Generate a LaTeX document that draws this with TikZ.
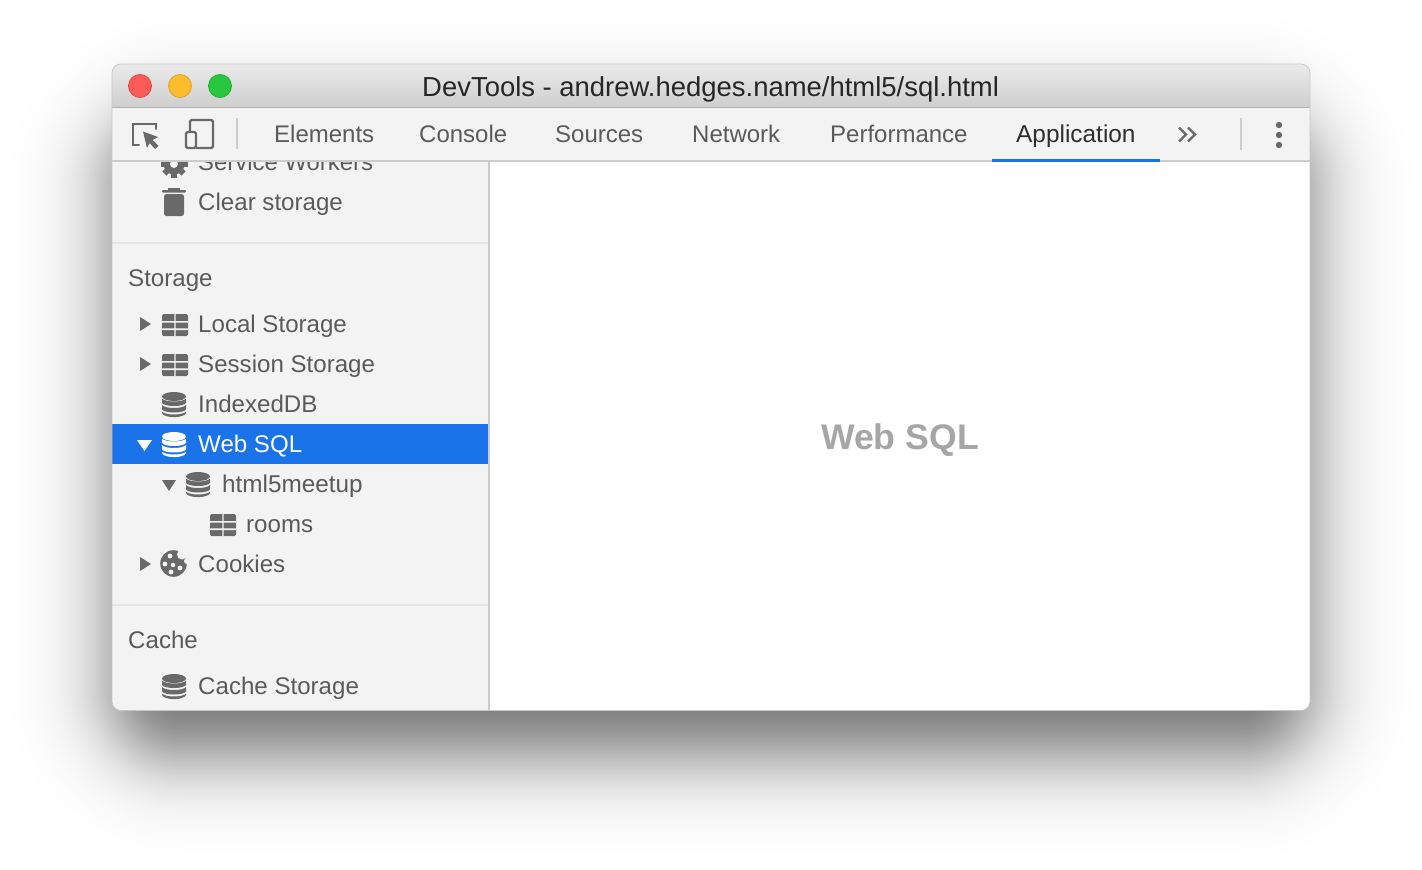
\documentclass[tikz,border=0pt]{standalone}
\usepackage{fontspec}
\setmainfont{Liberation Sans}
\definecolor{txt}{HTML}{5A5A5A}
\definecolor{icon}{HTML}{696969}
\definecolor{panel}{HTML}{F3F3F3}
\definecolor{rule}{HTML}{CCCCCC}
\definecolor{sepline}{HTML}{E4E4E4}
\definecolor{sel}{HTML}{1A73E8}
\tikzset{
  lbl/.style={anchor=base west,inner sep=0pt,font=\fontsize{24.1}{28}\selectfont,text=txt},
  tablbl/.style={lbl,font=\fontsize{24}{28}\selectfont},
  light/.style={circle,minimum size=23pt,inner sep=0pt,line width=0.8pt}
}
\newcommand{\tableicon}[2]{%
  \begin{scope}[shift={(#1,#2)}]
    \fill[icon,rounded corners=1.5pt] (0,0) rectangle (26,22);
    \fill[panel] (0,7) rectangle (26,8.6) (0,14.4) rectangle (26,16) (12.3,0) rectangle (13.7,22);
  \end{scope}}
\newcommand{\dbicon}[4]{%
  \begin{scope}[shift={(#1,#2)}]
    \fill[#3] (0,4.5) arc[start angle=180,end angle=-180,x radius=12,y radius=4.5];
    \fill[#3] (0,6.5) .. controls (3,10.5) and (21,10.5) .. (24,6.5) -- (24,11) .. controls (21,15) and (3,15) .. (0,11) -- cycle;
    \fill[#3] (0,13) .. controls (3,17) and (21,17) .. (24,13) -- (24,17.5) .. controls (21,21.5) and (3,21.5) .. (0,17.5) -- cycle;
    \fill[#3] (0,19.5) .. controls (3,23.5) and (21,23.5) .. (24,19.5) -- (24,21) .. controls (22,26.5) and (2,26.5) .. (0,21) -- cycle;
  \end{scope}}
\newcommand{\rtri}[2]{\fill[icon] (#1,#2-7) -- (#1+11,#2) -- (#1,#2+7) -- cycle;}
\newcommand{\dtri}[4]{\fill[#4] (#1,#2) -- (#1+#3,#2) -- (#1+#3/2,#2+11) -- cycle;}
\begin{document}
\begin{tikzpicture}[x=1pt,y=-1pt]
\useasboundingbox (0,0) rectangle (1422,870);
% soft shadow, painted opaque from the outside in
\foreach \d in {110,108,...,-110}{
  \pgfmathsetmacro{\val}{1-0.58/(1+exp(1.7*\d/42))+0.58/(1+exp(1.7*110/42))}
  \pgfmathsetmacro{\rad}{max(10,\d+70)}
  \definecolor{shd}{gray}{\val}
  \fill[shd,rounded corners=\rad pt]
    (112-\d,118-\d) rectangle (1310+\d,755+\d);
}
% window
\begin{scope}
  \clip[rounded corners=9pt] (112,64) rectangle (1310,710.5);
  \fill[white] (112,64) rectangle (1310,711);
  \shade[top color=white!92!black,bottom color=white!81!black] (112,64) rectangle (1310,107);
  \fill[black!30] (112,106.5) rectangle (1310,108);
  \fill[panel] (112,108) rectangle (1310,161);
  \fill[panel] (112,161) rectangle (488,711);
  \fill[rule] (488,161) rectangle (490,711);
  \fill[sepline] (112,242) rectangle (488,244);
  \fill[sepline] (112,604) rectangle (488,606);
  \fill[sel] (112,424) rectangle (488,464);
  % scrolled sidebar contents
  \begin{scope}
    \clip (112,162) rectangle (488,711);
    \node[lbl,font=\fontsize{23.9}{28}\selectfont] (sw) at (198,170) {Service Workers};
    \foreach \a in {0,45,...,315}{
      \fill[icon,rotate around={\a:(174,164)}] (171,150.5) rectangle (177,158);
    }
    \fill[icon] (174,164) circle[radius=10.5];
    \fill[panel] (174,164) circle[radius=4];
  \end{scope}
  \fill[rule] (112,160) rectangle (1310,162);
  \fill[sel] (992,159) rectangle (1160,162);
\end{scope}
\draw[black!22,line width=0.8pt,rounded corners=9pt] (112,64) rectangle (1310,710.5);
% traffic lights
\node[light,fill={rgb,255:red,252;green,91;blue,87},draw={rgb,255:red,226;green,70;blue,64}] (close) at (140,86) {};
\node[light,fill={rgb,255:red,253;green,188;blue,44},draw={rgb,255:red,224;green,162;blue,36}] (minimize) at (180,86) {};
\node[light,fill={rgb,255:red,39;green,200;blue,63},draw={rgb,255:red,30;green,174;blue,44}] (maximize) at (220,86) {};
\node[lbl,font=\fontsize{27.45}{30}\selectfont,text=black!85] (title) at (422,96) {DevTools - andrew.hedges.name/html5/sql.html};
% toolbar icons
\draw[icon,line width=2pt,line cap=round] (156,129) -- (156,124) -- (133,124) -- (133,145) -- (139,145);
\fill[icon] (143,131.5) -- (158,137) -- (152.5,140) -- (158.5,146) -- (155,149) -- (149.5,143) -- (147,148) -- cycle;
\draw[icon,line width=2.4pt,rounded corners=1.5pt] (190,131) -- (190,120) -- (213,120) -- (213,148) -- (196,148);
\draw[icon,line width=2.4pt,rounded corners=1.5pt] (186,132) rectangle (196,148);
\fill[rule] (236,118) rectangle (238,149);
\fill[rule] (1240,118) rectangle (1242,150);
\node[tablbl] (elements) at (274,142) {Elements};
\node[tablbl] (console) at (419,142) {Console};
\node[tablbl] (sources) at (555,142) {Sources};
\node[tablbl] (network) at (692,142) {Network};
\node[tablbl] (performance) at (830,142) {Performance};
\node[tablbl,text=black!82,font=\fontsize{24.4}{28}\selectfont] (application) at (1016,142) {Application};
\draw[icon,line width=2.3pt] (1179,127.5) -- (1186,134.5) -- (1179,141.5);
\draw[icon,line width=2.3pt] (1188,127.5) -- (1195,134.5) -- (1188,141.5);
\fill[icon] (1279,125) circle[radius=3.2] (1279,135) circle[radius=3.2] (1279,145) circle[radius=3.2];
% sidebar
\fill[icon,rounded corners=1pt] (162,190) rectangle (186,192.5);
\fill[icon] (168,188) rectangle (180,190);
\fill[icon,rounded corners=2.5pt] (164,194) -- (184,194) -- (184,216) -- (164,216) -- cycle;
\node[lbl] (clear) at (198,210) {Clear storage};
\node[lbl] (storage) at (128,286) {Storage};
\rtri{140}{324}
\tableicon{162}{314}
\node[lbl] (local) at (198,332) {Local Storage};
\rtri{140}{364}
\tableicon{162}{354}
\node[lbl] (session) at (198,372) {Session Storage};
\dbicon{162}{392}{icon}{panel}
\node[lbl] (indexed) at (198,412) {IndexedDB};
\dtri{137}{440}{15}{white}
\dbicon{162}{432}{white}{sel}
\node[lbl,text=white] (websql) at (198,452) {Web SQL};
\dtri{162}{480}{14}{icon}
\dbicon{186}{472}{icon}{panel}
\node[lbl,font=\fontsize{24.3}{28}\selectfont] (meetup) at (222,492) {html5meetup};
\tableicon{210}{514}
\node[lbl] (rooms) at (246,532) {rooms};
\rtri{140}{564}
\fill[icon] (173.5,563.5) circle[radius=13.3];
\fill[panel] (182,554.5) circle[radius=5] (187,561) circle[radius=3];
\fill[panel] (170,556) circle[radius=2.4] (165,564) circle[radius=2.4] (173,565) circle[radius=2.2]
  (180,568) circle[radius=2.4] (171,572) circle[radius=2.4];
\node[lbl] (cookies) at (198,572) {Cookies};
\node[lbl] (cache) at (128,648) {Cache};
\dbicon{162}{674}{icon}{panel}
\node[lbl] (cachest) at (198,694) {Cache Storage};
\node[lbl,font=\bfseries\fontsize{35.6}{40}\selectfont,text=black!35] (main) at (821,449) {Web SQL};
\end{tikzpicture}
\end{document}
